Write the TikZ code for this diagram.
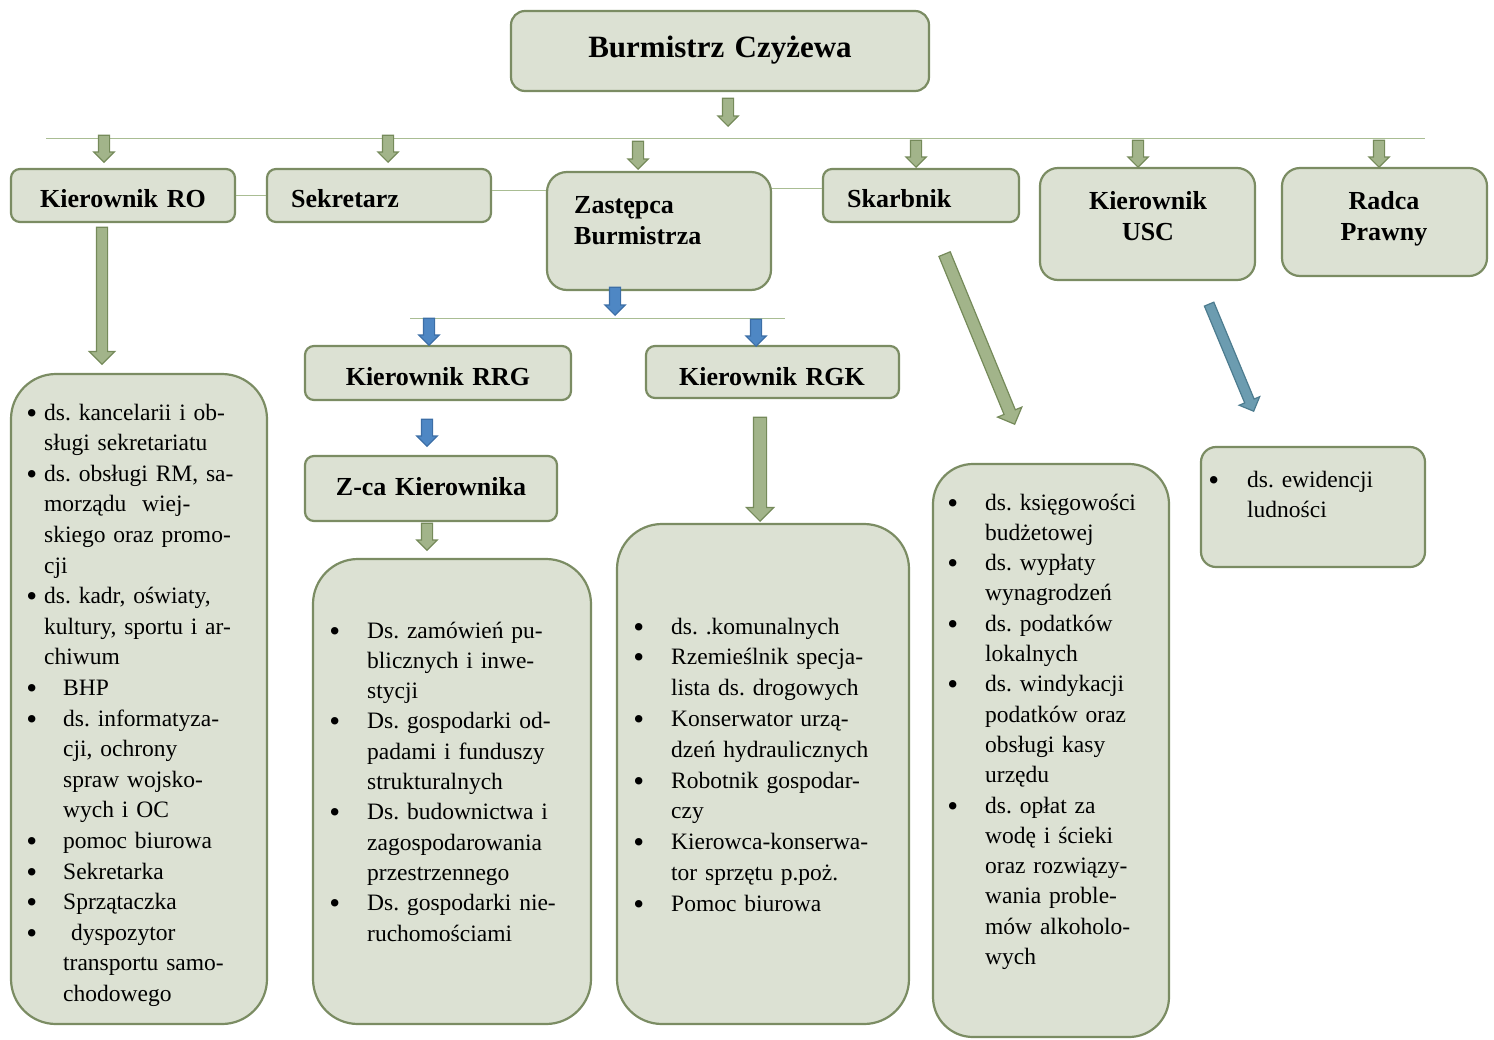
\documentclass[tikz,border=0pt]{standalone}
\usepackage{fontspec}
\setmainfont{Liberation Serif}
\usetikzlibrary{shapes.arrows}
\frenchspacing

\definecolor{tlo}{HTML}{DCE1D3}
\definecolor{ramka}{HTML}{7B8C63}
\definecolor{ziel}{HTML}{A2B48A}
\definecolor{zielc}{HTML}{758A5A}
\definecolor{niebieski}{HTML}{4E87C4}
\definecolor{niebc}{HTML}{3C6EA6}
\definecolor{morski}{HTML}{6C9CB0}
\definecolor{morskic}{HTML}{4D7C8F}
\definecolor{linia}{HTML}{A9BD93}

% punkt listy: kropka wysunieta w lewo
\newcommand{\pkt}[1][29pt]{\leavevmode\llap{\raisebox{-3pt}{\fontsize{31}{31}\selectfont\textbullet}\hspace{#1}}}

\begin{document}
\begin{tikzpicture}[x=1pt,y=-1pt,
                    box/.style={draw=ramka,fill=tlo,line width=2.2pt,rounded corners=9pt,inner sep=0pt},
                    tyt/.style={font=\fontsize{26}{31}\selectfont\bfseries,inner sep=0pt,text width=220pt},
                    lista/.style={font=\fontsize{23.5}{30.3}\selectfont,inner sep=0pt,anchor=base west,
                                  text width=260pt,align=left},
                    strz/.style={single arrow,single arrow head indent=0pt,single arrow tip angle=90,
                                 draw=zielc,fill=ziel,line width=1.2pt,inner sep=5pt,
                                 single arrow head extend=4.5pt,minimum height=27pt,anchor=tip,rotate=-90},
                    nstrz/.style={strz,draw=niebc,fill=niebieski},
                    cienka/.style={draw=linia,line width=1pt}]
  \useasboundingbox (0,0) rectangle (1494,1039);

  % linie poziome
  \coordinate (l1) at (46,138);
  \coordinate (l2) at (1425,138);
  \coordinate (l3) at (410,318);
  \coordinate (l4) at (785,318);
  \draw[cienka] (l1) -- (l2);
  \draw[cienka] (l3) -- (l4);

  % skrzynki
  \node[box,rounded corners=14pt,minimum width=418,minimum height=80] (burm)  at (720,51) {};
  \node[box,minimum width=224,minimum height=53]  (ro)    at (123,195.5) {};
  \node[box,minimum width=224,minimum height=53]  (sek)   at (379,195.5) {};
  \node[box,rounded corners=20pt,minimum width=224,minimum height=118] (zast) at (659,231) {};
  \node[box,minimum width=196,minimum height=53]  (skarb) at (921,195.5) {};
  \node[box,rounded corners=18pt,minimum width=215,minimum height=112] (usc)   at (1147.5,224) {};
  \node[box,rounded corners=18pt,minimum width=205,minimum height=108] (radca) at (1384.5,222) {};
  \node[box,minimum width=266,minimum height=54]  (rrg)   at (438,373) {};
  \node[box,minimum width=253,minimum height=52]  (rgk)   at (772.5,372) {};
  \node[box,minimum width=252,minimum height=65]  (zca)   at (431,488.5) {};

  % skrzynki z listami
  \node[box,rounded corners=45pt,minimum width=256,minimum height=650] (lro)    at (139,699) {};
  \node[box,rounded corners=45pt,minimum width=278,minimum height=465] (lrrg)   at (452,791.5) {};
  \node[box,rounded corners=45pt,minimum width=292,minimum height=500] (lrgk)   at (763,774) {};
  \node[box,rounded corners=40pt,minimum width=236,minimum height=573] (lskarb) at (1051,750.5) {};
  \node[box,rounded corners=15pt,minimum width=224,minimum height=120] (lusc)   at (1313,507) {};

  % cienkie polaczenia miedzy skrzynkami
  \draw[cienka] (ro.east) -- (sek.west);
  \draw[cienka] ([yshift=5.5pt]sek.east) -- ([yshift=5.5pt]sek.east -| zast.west);
  \draw[cienka] ([yshift=43pt]zast.east) -- ([yshift=43pt]zast.east -| skarb.west);

  % napisy w skrzynkach
  \node[tyt,font=\fontsize{31}{36}\selectfont\bfseries,anchor=base,align=center,text width=400pt]
        (tburm) at (720,57) {Burmistrz Czyżewa};
  \node[tyt,anchor=base,align=center]  (tro)    at (123,207) {Kierownik RO};
  \node[tyt,anchor=base west,align=left] (tsek)   at (291,207) {Sekretarz};
  \node[tyt,anchor=base west,align=left] (tzast)  at (574,213) {Zastępca\\Burmistrza};
  \node[tyt,anchor=base west,align=left] (tskarb) at (847,207) {Skarbnik};
  \node[tyt,anchor=base,align=center]  (tusc)   at (1148,209) {Kierownik\\USC};
  \node[tyt,anchor=base,align=center]  (tradca) at (1384,209) {Radca\\Prawny};
  \node[tyt,anchor=base,align=center,text width=260pt] (trrg) at (438,385) {Kierownik RRG};
  \node[tyt,anchor=base,align=center,text width=250pt] (trgk) at (772,385) {Kierownik RGK};
  \node[tyt,anchor=base,align=center,text width=250pt] (tzca) at (431,495) {Z-ca Kierownika};

  % listy stanowisk
  \node[lista,font=\fontsize{23.5}{30.6}\selectfont] (tlro1) at (44,420) {%
    \pkt[7pt]ds. kancelarii i ob-\\
    sługi sekretariatu\\
    \pkt[7pt]ds. obsługi RM, sa-\\
    morządu~~wiej-\\
    skiego oraz promo-\\
    cji\\
    \pkt[7pt]ds. kadr, oświaty,\\
    kultury, sportu i ar-\\
    chiwum};
  \node[lista,font=\fontsize{23.5}{30.6}\selectfont] (tlro2) at (63,695.4) {%
    \pkt[26pt]BHP\\
    \pkt[26pt]ds. informatyza-\\
    cji, ochrony\\
    spraw wojsko-\\
    wych i OC\\
    \pkt[26pt]pomoc biurowa\\
    \pkt[26pt]Sekretarka\\
    \pkt[26pt]Sprzątaczka\\
    \pkt[26pt]\ dyspozytor\\
    transportu samo-\\
    chodowego};
  \node[lista] (tlrrg) at (367,638) {%
    \pkt[27pt]Ds. zamówień pu-\\
    blicznych i inwe-\\
    stycji\\
    \pkt[27pt]Ds. gospodarki od-\\
    padami i funduszy\\
    strukturalnych\\
    \pkt[27pt]Ds. budownictwa i\\
    zagospodarowania\\
    przestrzennego\\
    \pkt[27pt]Ds. gospodarki nie-\\
    ruchomościami};
  \node[lista,font=\fontsize{23.5}{30.8}\selectfont] (tlrgk) at (671,634) {%
    \pkt[27pt]ds. .komunalnych\\
    \pkt[27pt]Rzemieślnik specja-\\
    lista ds. drogowych\\
    \pkt[27pt]Konserwator urzą-\\
    dzeń hydraulicznych\\
    \pkt[27pt]Robotnik gospodar-\\
    czy\\
    \pkt[27pt]Kierowca-konserwa-\\
    tor sprzętu p.poż.\\
    \pkt[27pt]Pomoc biurowa};
  \node[lista] (tlskarb) at (985,510) {%
    \pkt[27pt]ds. księgowości\\
    budżetowej\\
    \pkt[27pt]ds. wypłaty\\
    wynagrodzeń\\
    \pkt[27pt]ds. podatków\\
    lokalnych\\
    \pkt[27pt]ds. windykacji\\
    podatków oraz\\
    obsługi kasy\\
    urzędu\\
    \pkt[27pt]ds. opłat za\\
    wodę i ścieki\\
    oraz rozwiązy-\\
    wania proble-\\
    mów alkoholo-\\
    wych};
  \node[lista,font=\fontsize{23.5}{30}\selectfont] (tlusc) at (1247,487) {%
    \pkt[28pt]ds. ewidencji\\
    ludności};

  % strzalki blokowe
  \node[strz,minimum height=28pt] (s0) at (728,127) {};
  \node[strz] (s1) at (104,163) {};
  \node[strz] (s2) at (388,163) {};
  \node[strz,minimum height=28pt] (s3) at (638,170) {};
  \node[strz] (s4) at (916,168) {};
  \node[strz] (s5) at (1138,168) {};
  \node[strz] (s6) at (1379,168) {};
  \node[nstrz,minimum height=28pt] (s7) at (615,316) {};
  \node[nstrz] (s8)  at (429,346) {};
  \node[nstrz] (s9)  at (756,347) {};
  \node[nstrz] (s10) at (427,447) {};
  \node[strz]  (s11) at (427,551) {};
  \node[strz,single arrow head extend=7pt,minimum height=137pt] (s12) at (102,365) {};
  \node[strz,inner sep=6pt,single arrow head extend=7pt,minimum height=104pt] (s13) at (760,522) {};
  \node[strz,inner sep=5.5pt,single arrow head extend=7pt,minimum height=184pt,rotate=22.4] (s14) at (1015,425) {};
  \node[strz,draw=morskic,fill=morski,inner sep=4.5pt,single arrow head extend=6pt,
        minimum height=116pt,rotate=22.6] (s15) at (1254,412) {};
\end{tikzpicture}
\end{document}
